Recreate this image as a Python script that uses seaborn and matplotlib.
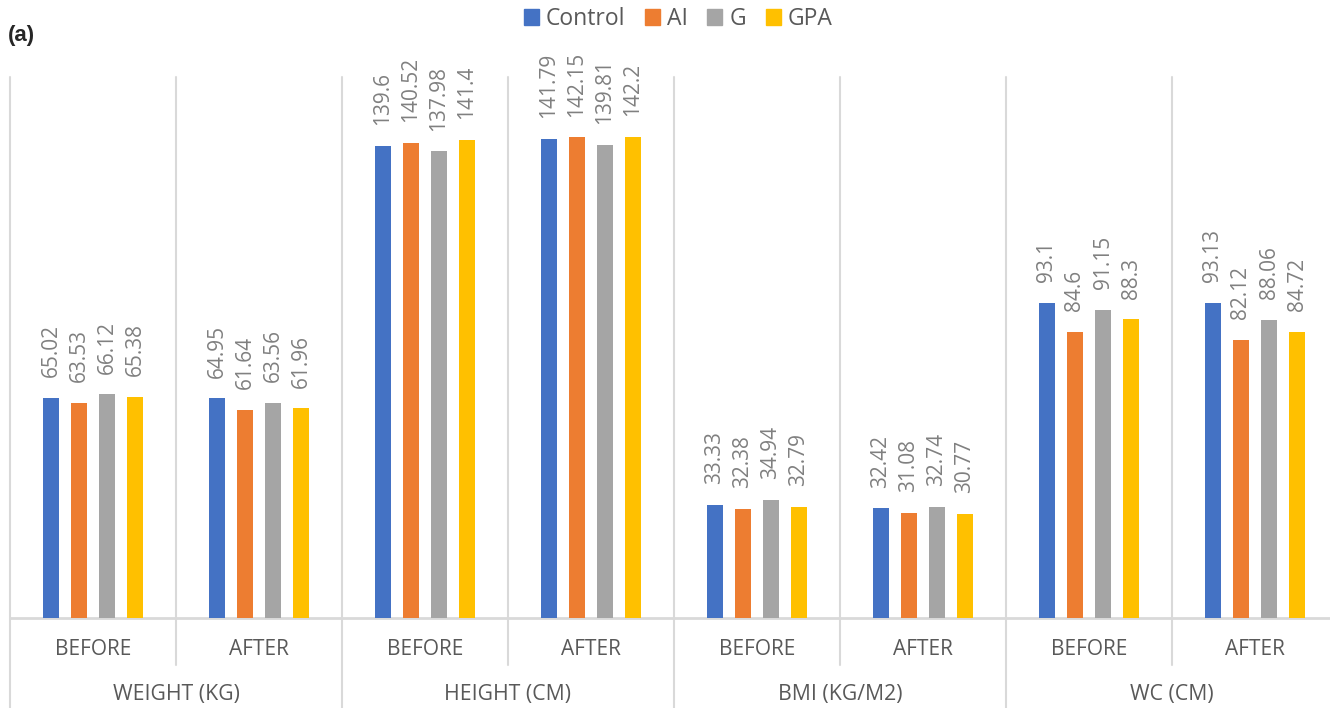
import numpy as np
import pandas as pd
import matplotlib.pyplot as plt
import seaborn as sns
from matplotlib.patches import Patch

# data
measures = ["WEIGHT (KG)", "HEIGHT (CM)", "BMI (KG/M2)", "WC (CM)"]
phases = ["BEFORE", "AFTER"]
series = ["Control", "AI", "G", "GPA"]
control = [65.02, 64.95, 139.6, 141.79, 33.33, 32.42, 93.1, 93.13]
ai = [63.53, 61.64, 140.52, 142.15, 32.38, 31.08, 84.6, 82.12]
g = [66.12, 63.56, 137.98, 139.81, 34.94, 32.74, 91.15, 88.06]
gpa = [65.38, 61.96, 141.4, 142.2, 32.79, 30.77, 88.3, 84.72]
colors = ["#4472C4", "#ED7D31", "#A5A5A5", "#FFC000"]

keys = [m + " " + p for m in measures for p in phases]
rows = []
for s, vals in zip(series, [control, ai, g, gpa]):
    for k, v in zip(keys, vals):
        rows.append({"group": k, "value": v, "series": s})
df = pd.DataFrame(rows)

sns.set_style("white")
plt.rcParams["font.family"] = ["Open Sans", "DejaVu Sans"]

fig = plt.figure(figsize=(13.3, 7.08), dpi=100)
ax = fig.add_axes([10 / 1330, 90 / 708, 1328 / 1330, 541 / 708])

sns.barplot(data=df, x="group", y="value", hue="series", order=keys,
            hue_order=series, palette=colors, saturation=1, width=0.675,
            gap=0.46, linewidth=0, legend=False, ax=ax)

for c in ax.containers:
    ax.bar_label(c, fmt="{:g}", rotation=90, padding=15, fontsize=15,
                 color="#808080")

ax.set_ylim(0, 160)
ax.set_xlim(-0.5, len(keys) - 0.5)
ax.set_xlabel("")
ax.set_ylabel("")
ax.set_xticks([])
ax.set_yticks([])
for sp in ax.spines.values():
    sp.set_visible(False)

grid = "#D9D9D9"
tr = ax.get_xaxis_transform()
for i in range(len(keys) + 1):
    x = i - 0.5
    bottom = -0.17 if i % 2 == 0 else -0.087
    ax.plot([x, x], [bottom, 1], color=grid, lw=1.5, transform=tr,
            clip_on=False, zorder=0)
ax.plot([-0.5, len(keys) - 0.5], [0, 0], color=grid, lw=2, transform=tr,
        clip_on=False, zorder=0)

for i, k in enumerate(keys):
    ax.text(i, -0.059, k.split(" ")[-1], transform=tr, ha="center",
            va="center", fontsize=15, color="#595959")
for j, m in enumerate(measures):
    ax.text(2 * j + 0.5, -0.142, m, transform=tr, ha="center", va="center",
            fontsize=15.3, color="#595959")

handles = [Patch(color=c, label=s) for c, s in zip(colors, series)]
fig.legend(handles=handles, loc="center", bbox_to_anchor=(678 / 1330, 1 - 19 / 708),
           ncol=4, frameon=False, fontsize=16.5, handlelength=0.65,
           handleheight=0.65, handletextpad=0.3, columnspacing=0.87,
           labelcolor="#595959", borderpad=0, borderaxespad=0)

fig.text(8 / 1330, 1 - 35 / 708, "(a)", fontsize=16, fontweight="bold",
         family="Liberation Sans", va="center", ha="left")

fig.savefig("out.png", dpi=100)
